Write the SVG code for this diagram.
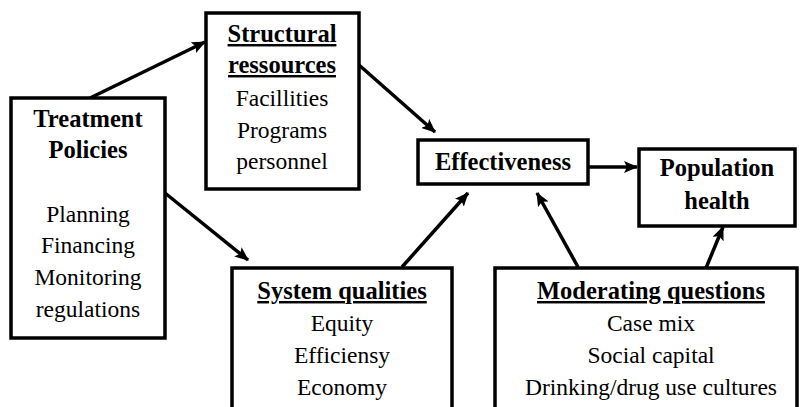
<svg xmlns="http://www.w3.org/2000/svg" width="800" height="407" viewBox="0 0 800 407">
<style>
.box{fill:#fff;stroke:#000;stroke-width:3.5}
.t{font-family:'Liberation Serif','DejaVu Serif',serif;font-size:23.5px;fill:#000;text-anchor:middle}
.b{font-weight:bold;font-size:24.5px}
.u{text-decoration:underline}
.c{stroke:#000;stroke-width:3.5;fill:none;marker-end:url(#ah)}
</style>
<defs>
<marker id="ah" markerUnits="userSpaceOnUse" markerWidth="14" markerHeight="12" refX="13" refY="6" orient="auto">
<path d="M0,0 L14,6 L0,12 L3,6 z" fill="#000"/>
</marker>
</defs>
<rect width="800" height="407" fill="#fff"/>
<g id="connectors">
<line class="c" x1="90" y1="98" x2="205" y2="42"/>
<line class="c" x1="359" y1="65" x2="435" y2="132"/>
<line class="c" x1="165" y1="193" x2="248" y2="260"/>
<line class="c" x1="402" y1="267" x2="468" y2="193"/>
<line class="c" x1="578" y1="267" x2="537" y2="193"/>
<line class="c" x1="706" y1="268" x2="723" y2="227"/>
<line class="c" x1="588" y1="167" x2="637" y2="167"/>
</g>
<g id="treatment">
<rect class="box" x="11" y="98" width="154" height="240"/>
<text class="t b" x="88" y="127">Treatment</text>
<text class="t b" x="88" y="158">Policies</text>
<text class="t" x="88" y="222">Planning</text>
<text class="t" x="88" y="253">Financing</text>
<text class="t" x="88" y="285">Monitoring</text>
<text class="t" x="88" y="317">regulations</text>
</g>
<g id="structural">
<rect class="box" x="206" y="13" width="153" height="176"/>
<text class="t b u" x="282" y="42">Structural</text>
<text class="t b u" x="282" y="73">ressources</text>
<text class="t" x="282" y="106">Facillities</text>
<text class="t" x="282" y="138">Programs</text>
<text class="t" x="282" y="169">personnel</text>
</g>
<g id="effectiveness">
<rect class="box" x="418" y="140" width="170" height="44"/>
<text class="t b" x="503" y="170">Effectiveness</text>
</g>
<g id="population">
<rect class="box" x="639" y="149" width="156" height="77"/>
<text class="t b" x="717" y="176">Population</text>
<text class="t b" x="717" y="209">health</text>
</g>
<g id="system">
<rect class="box" x="232" y="268" width="220" height="150"/>
<text class="t b u" x="342" y="299">System qualities</text>
<text class="t" x="342" y="331">Equity</text>
<text class="t" x="342" y="363">Efficiensy</text>
<text class="t" x="342" y="395">Economy</text>
</g>
<g id="moderating">
<rect class="box" x="495" y="268" width="302" height="150"/>
<text class="t b u" x="651" y="299">Moderating questions</text>
<text class="t" x="651" y="331">Case mix</text>
<text class="t" x="651" y="363">Social capital</text>
<text class="t" x="651" y="395">Drinking/drug use cultures</text>
</g>
</svg>
